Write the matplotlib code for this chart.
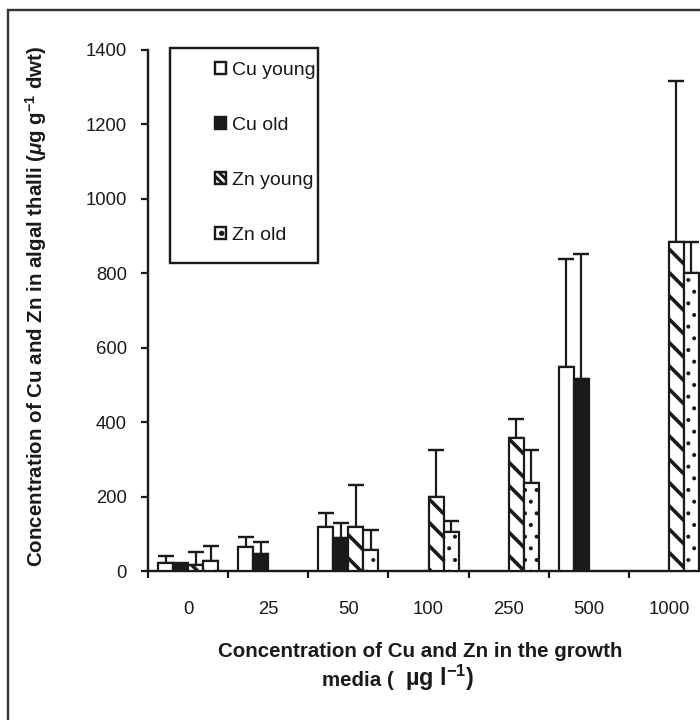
import numpy as np
import matplotlib
matplotlib.use("Agg")
import matplotlib.pyplot as plt
from matplotlib.patches import Rectangle

# ---------------- data ----------------
categories = ['0', '25', '50', '100', '250', '500', '1000']
series_names = ['Cu young', 'Cu old', 'Zn young', 'Zn old']
nan = np.nan
cu_young = [22, 65, 118, nan, nan, 548, nan]
cu_young_err = [19, 27, 38, nan, nan, 290, nan]
cu_old = [17, 45, 89, nan, nan, 516, nan]
cu_old_err = [5, 33, 40, nan, nan, 335, nan]
zn_young = [15, nan, 118, 200, 357, nan, 884]
zn_young_err = [37, nan, 113, 125, 51, nan, 433]
zn_old = [28, nan, 56, 105, 237, nan, 800]
zn_old_err = [40, nan, 54, 29, 88, nan, 84]
y_ticks = [0, 200, 400, 600, 800, 1000, 1200, 1400]

# ---------------- style ----------------
DPI = 140
W, H = 700, 720
PX = 72.0 / DPI  # points per pixel
plt.rcParams['font.family'] = ['Liberation Sans', 'DejaVu Sans']
plt.rcParams['mathtext.fontset'] = 'custom'
plt.rcParams['mathtext.rm'] = 'Liberation Sans:bold'
plt.rcParams['mathtext.it'] = 'Liberation Sans:italic:bold'
plt.rcParams['mathtext.bf'] = 'Liberation Sans:bold'
plt.rcParams['hatch.color'] = '#1a1a1a'
INK = '#1a1a1a'

fig = plt.figure(figsize=(W / DPI, H / DPI), dpi=DPI)
ax_left, ax_right, ax_bottom, ax_top = 148, 709, 571, 50
ax = fig.add_axes([ax_left / W, 1 - ax_bottom / H, (ax_right - ax_left) / W,
                   (ax_bottom - ax_top) / H])

x = np.arange(len(categories))
bw = 0.1875
styles = [
    dict(facecolor='white', hatch=None, hlw=1.0),
    dict(facecolor=INK, hatch=None, hlw=1.0),
    dict(facecolor='white', hatch='\\\\', hlw=3.6),
    dict(facecolor='white', hatch='..', hlw=1.7),
]
series = [(cu_young, cu_young_err), (cu_old, cu_old_err),
          (zn_young, zn_young_err), (zn_old, zn_old_err)]
handles = []
for i, ((vals, errs), st) in enumerate(zip(series, styles)):
    vals = np.array(vals, float)
    errs = np.array(errs, float)
    m = ~np.isnan(vals)
    pos = x + (i - 1.5) * bw
    ax.errorbar(pos[m], vals[m], yerr=[np.zeros(m.sum()), errs[m]], fmt='none',
                ecolor=INK, elinewidth=2.2 * PX, capsize=8.5 * PX,
                capthick=2.4 * PX, zorder=2)
    with plt.rc_context({'hatch.linewidth': st['hlw'] * PX}):
        b = ax.bar(pos[m], vals[m], width=bw, facecolor=st['facecolor'],
                   edgecolor=INK, linewidth=2.2 * PX, hatch=st['hatch'],
                   zorder=3, label=series_names[i])
    for p in b.patches:
        if hasattr(p, 'set_hatch_linewidth'):
            p.set_hatch_linewidth(st['hlw'] * PX)
    handles.append(b)

ax.set_xlim(-0.5, len(categories) - 0.5)
ax.set_ylim(0, 1400)
ax.set_yticks(y_ticks)
ax.set_xticks(np.arange(len(categories) + 1) - 0.5)
ax.set_xticklabels([])
ax.set_xticks(x, minor=True)
ax.set_xticklabels(categories, minor=True)
for s in ['top', 'right']:
    ax.spines[s].set_visible(False)
for s in ['left', 'bottom']:
    ax.spines[s].set_linewidth(2.4 * PX)
    ax.spines[s].set_color(INK)
fs_tick = 18.5 * PX
ax.tick_params(axis='y', direction='out', length=7 * PX, width=2.2 * PX,
               pad=14 * PX, labelsize=fs_tick, colors=INK)
ax.tick_params(axis='x', which='major', direction='out', length=7 * PX,
               width=2.2 * PX, colors=INK)
ax.tick_params(axis='x', which='minor', length=0, pad=30 * PX,
               labelsize=fs_tick, colors=INK)

# axis labels
fs_lab = 20.5 * PX
fig.text(36 / W, 1 - 306 / H,
         r'Concentration of Cu and Zn in algal thalli ($\mu$g g$^{-1}$ dwt)',
         rotation=90, ha='center', va='center', fontsize=fs_lab,
         fontweight='bold', color=INK)
fig.text(420 / W, 1 - 657 / H, 'Concentration of Cu and Zn in the growth',
         ha='center', va='baseline', fontsize=fs_lab, fontweight='bold',
         color=INK)
fig.text(322 / W, 1 - 686 / H, 'media (',
         ha='left', va='baseline', fontsize=fs_lab, fontweight='bold',
         color=INK)
fig.text(405 / W, 1 - 686 / H, r'µg l$^{-1}$)',
         ha='left', va='baseline', fontsize=23.5 * PX, fontweight='bold',
         color=INK)

# legend
fs_leg = 19.5 * PX
leg = fig.legend(handles=handles, labels=series_names, loc='upper left',
                 bbox_to_anchor=(215 / W, 1 - 62 / H),
                 bbox_transform=fig.transFigure, frameon=False,
                 fontsize=fs_leg, handlelength=0.55, handleheight=0.55,
                 handletextpad=0.33, labelspacing=1.95, borderpad=0,
                 borderaxespad=0)
for t in leg.get_texts():
    t.set_color(INK)
leg_hatches = [None, None, '\\\\\\\\\\\\', '..']
leg_hlw = [1.0, 1.0, 3.0, 3.0]
for h, hat, lw in zip(leg.legend_handles, leg_hatches, leg_hlw):
    h.set_hatch(hat)
    if hasattr(h, 'set_hatch_linewidth'):
        h.set_hatch_linewidth(lw * PX)
    h.set_linewidth(2.4 * PX)
fig.patches.append(Rectangle((170 / W, 1 - 263 / H), 148 / W, 215 / H,
                             transform=fig.transFigure, fill=False,
                             edgecolor=INK, linewidth=2.4 * PX, zorder=5))
# figure border (extends past the right and bottom edges)
fig.patches.append(Rectangle((8 / W, -0.2), 1.5, 1.2 - 10 / H,
                             transform=fig.transFigure, fill=False,
                             edgecolor='#333333', linewidth=2.4 * PX, zorder=0))

fig.savefig('out.png', dpi=DPI)
